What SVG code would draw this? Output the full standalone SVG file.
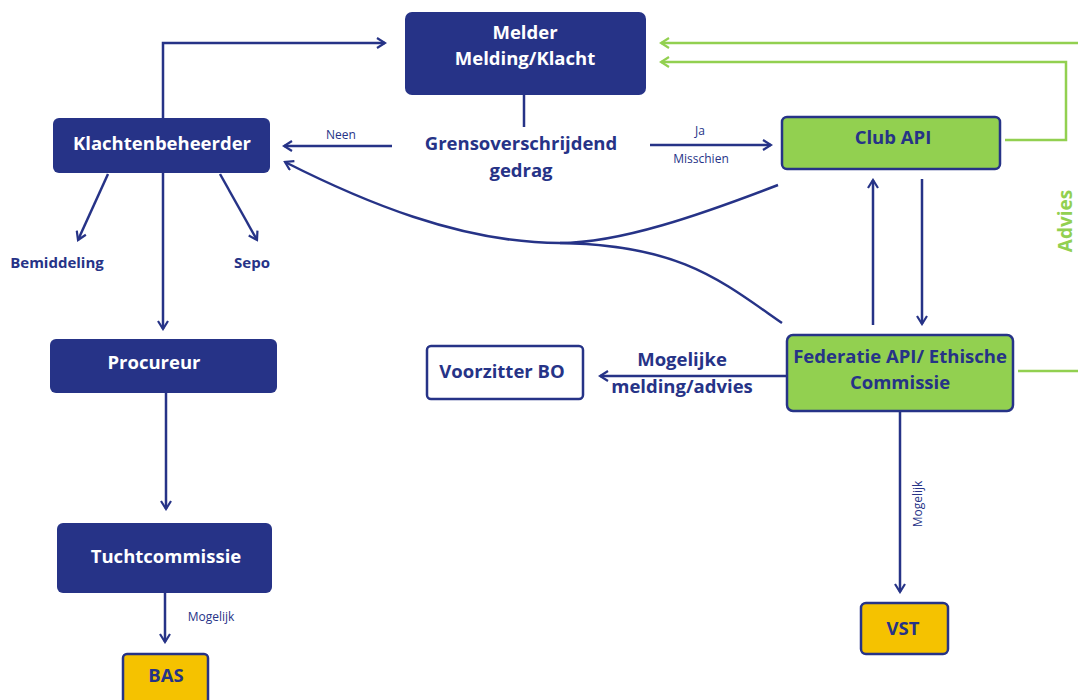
<svg xmlns="http://www.w3.org/2000/svg" width="1078" height="700" viewBox="0 0 1078 700">
<style>
.navy{fill:#263387;}
.box{stroke:#263387;stroke-width:2.5;}
.t{font-family:"Open Sans","Liberation Sans",sans-serif;font-weight:bold;text-anchor:middle;}
.w{fill:#ffffff;}
.n{fill:#263387;}
.sm{font-family:"Open Sans","Liberation Sans",sans-serif;font-size:12px;fill:#263387;text-anchor:middle;}
.c{fill:none;stroke:#263387;stroke-width:2.5;}
.g{fill:none;stroke:#92D050;stroke-width:2.5;}
</style>
<defs>
<marker id="a" viewBox="0 0 12 12" refX="10" refY="6" markerWidth="12" markerHeight="12" markerUnits="userSpaceOnUse" orient="auto">
<path d="M2,1 L10,6 L2,11" fill="none" stroke="#263387" stroke-width="2.2"/>
</marker>
<marker id="ag" viewBox="0 0 12 12" refX="10" refY="6" markerWidth="12" markerHeight="12" markerUnits="userSpaceOnUse" orient="auto">
<path d="M2,1 L10,6 L2,11" fill="none" stroke="#92D050" stroke-width="2.2"/>
</marker>
</defs>
<rect width="1078" height="700" fill="#ffffff"/>
<g id="connectors">
<path class="c" d="M163,118 V43 H385" marker-end="url(#a)"/>
<path class="c" d="M524,95 V127"/>
<path class="c" d="M392,146 H284" marker-end="url(#a)"/>
<path class="c" d="M650,145 H771" marker-end="url(#a)"/>
<path class="c" d="M778,185 C700,215 620,243 560,243 C460,243 360,200 285,162" marker-end="url(#a)"/>
<path class="c" d="M782,323 C720,280 680,245 560,243"/>
<path class="c" d="M873,325 V180" marker-end="url(#a)"/>
<path class="c" d="M922,179 V324" marker-end="url(#a)"/>
<path class="c" d="M787,376 H600" marker-end="url(#a)"/>
<path class="c" d="M900,411 V592" marker-end="url(#a)"/>
<path class="c" d="M165,593 V642" marker-end="url(#a)"/>
<path class="c" d="M166,393 V509" marker-end="url(#a)"/>
<path class="c" d="M163,173 V329" marker-end="url(#a)"/>
<path class="c" d="M108,174 L78,240" marker-end="url(#a)"/>
<path class="c" d="M220,174 L257,240" marker-end="url(#a)"/>
<path class="g" d="M1078,43 H661" marker-end="url(#ag)"/>
<path class="g" d="M1005,140 H1066 V62 H661" marker-end="url(#ag)"/>
<path class="g" d="M1018,371 H1078"/>
<text class="sm" x="341" y="139">Neen</text>
<text class="sm" x="700" y="135">Ja</text>
<text class="sm" x="701" y="163">Misschien</text>
<text class="sm" x="211" y="621" font-size="13">Mogelijk</text>
<text class="sm" font-size="13" transform="translate(922,504) rotate(-90)">Mogelijk</text>
<text class="t n" x="682" y="366" font-size="18.5">Mogelijke</text>
<text class="t n" x="682" y="393" font-size="18.5">melding/advies</text>
<text class="t n" x="521" y="150" font-size="18.5">Grensoverschrijdend</text>
<text class="t n" x="521" y="177" font-size="18.5">gedrag</text>
<text class="t" fill="#92D050" font-size="19" transform="translate(1072,221) rotate(-90)">Advies</text>
</g>
<g id="melder">
<rect class="navy" x="405" y="12" width="241" height="83" rx="7"/>
<text class="t w" x="525" y="39" font-size="18.5">Melder</text>
<text class="t w" x="525" y="65" font-size="18.5">Melding/Klacht</text>
</g>
<g id="klachtenbeheerder">
<rect class="navy" x="53" y="118" width="217" height="55" rx="6"/>
<text class="t w" x="162" y="150" font-size="18.5">Klachtenbeheerder</text>
</g>
<g id="bemiddeling"><text class="t n" x="57" y="268" font-size="15">Bemiddeling</text></g>
<g id="sepo"><text class="t n" x="252" y="268" font-size="15">Sepo</text></g>
<g id="procureur">
<rect class="navy" x="50" y="339" width="227" height="54" rx="6"/>
<text class="t w" x="154" y="369" font-size="18.5">Procureur</text>
</g>
<g id="tuchtcommissie">
<rect class="navy" x="57" y="523" width="215" height="70" rx="6"/>
<text class="t w" x="166" y="563" font-size="18.5">Tuchtcommissie</text>
</g>
<g id="bas">
<rect class="box" x="123" y="654" width="85" height="50" rx="4" fill="#F5C200"/>
<text class="t n" x="166" y="682" font-size="18.5">BAS</text>
</g>
<g id="voorzitter">
<rect class="box" x="427" y="346" width="156" height="53" rx="4" fill="#ffffff"/>
<text class="t n" x="502" y="378" font-size="18.5">Voorzitter BO</text>
</g>
<g id="clubapi">
<rect class="box" x="782" y="117" width="218" height="52" rx="5" fill="#92D050"/>
<text class="t n" x="893" y="144" font-size="18.5">Club API</text>
</g>
<g id="federatie">
<rect class="box" x="787" y="335" width="226" height="76" rx="6" fill="#92D050"/>
<text class="t n" x="900" y="363" font-size="18.5">Federatie API/ Ethische</text>
<text class="t n" x="900" y="389" font-size="18.5">Commissie</text>
</g>
<g id="vst">
<rect class="box" x="861" y="603" width="87" height="51" rx="5" fill="#F5C200"/>
<text class="t n" x="903" y="635" font-size="18.5">VST</text>
</g>
</svg>
